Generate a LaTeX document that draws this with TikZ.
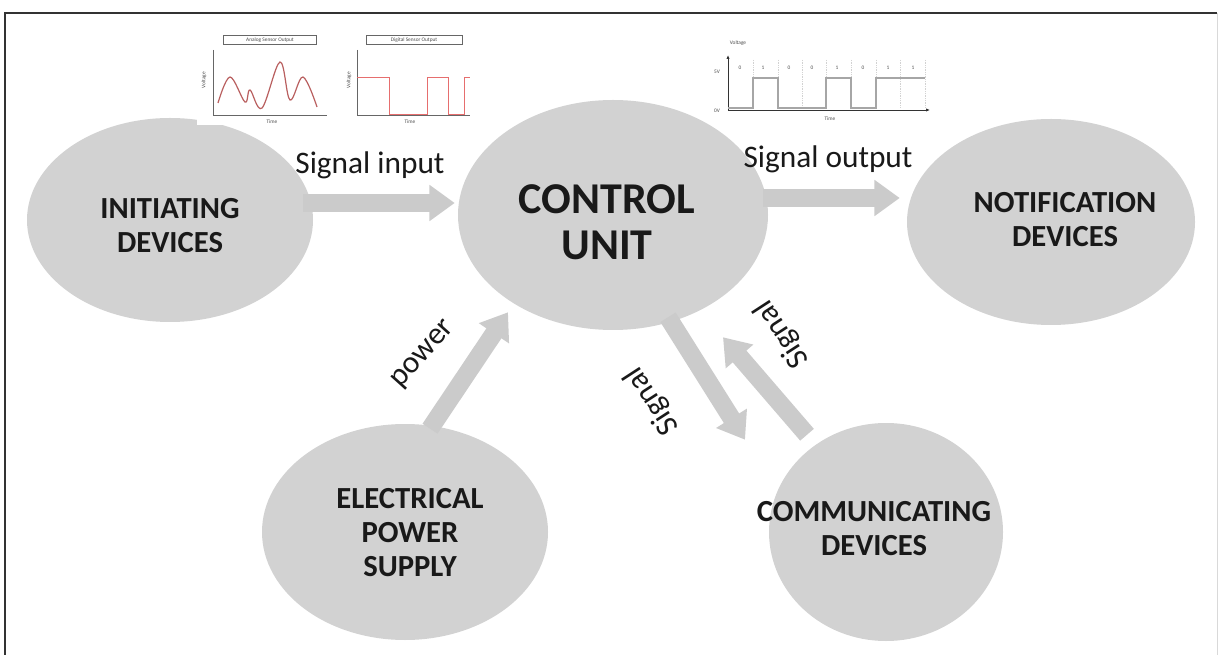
\documentclass[tikz,border=0pt]{standalone}
\usepackage{fontspec}
\setmainfont{Carlito}
\usetikzlibrary{arrows.meta,shapes.geometric,calc}
\definecolor{blobgray}{RGB}{210,210,210}
\definecolor{arrgray}{RGB}{203,203,203}
\definecolor{anared}{RGB}{185,95,95}
\definecolor{digred}{RGB}{230,110,110}
\begin{document}
\begin{tikzpicture}[x=0.75pt,y=-0.75pt,
  blob/.style={ellipse, fill=blobgray, draw=none, inner sep=0pt},
  blobtext/.style={font=\bfseries\fontsize{23}{25.5}\selectfont, align=center, text=black!90, inner sep=0pt},
  fat/.style={draw=arrgray, line width=13.5pt, -{Triangle[width=26pt,length=19pt]}},
  lbl/.style={font=\fontsize{23.5}{26}\selectfont, inner sep=0pt, text=black!90},
  tiny/.style={font=\fontsize{4}{4.5}\selectfont, inner sep=0.6pt, text=black!70},
  axis/.style={draw=black!60, line width=0.4pt},
]
\useasboundingbox (0,0) rectangle (1219,655);
\fill[white] (0,0) rectangle (1219,655);

% ellipses
\node[blob, minimum width=214.5pt, minimum height=153pt] (init) at (170,220) {};
\node[blob, minimum width=232.5pt, minimum height=172.5pt] (ctrl) at (613,215) {};
\node[blob, minimum width=216pt, minimum height=154.5pt] (notif) at (1051,222) {};
\node[blob, minimum width=214.5pt, minimum height=162pt] (elec) at (405,532) {};
\node[blob, minimum width=175.5pt, minimum height=163.5pt] (comm) at (886,532) {};

% white backdrop of the sensor-output picture
\fill[white] (197,13) rectangle (478,125);

% texts
\node[blobtext] (initT) at (170,226) {INITIATING\\DEVICES};
\node[blobtext, font=\bfseries\fontsize{33}{34.5}\selectfont] (ctrlT) at (607,222) {CONTROL\\UNIT};
\node[blobtext] (notifT) at (1065,220) {NOTIFICATION\\DEVICES};
\node[blobtext] (elecT) at (410,533) {ELECTRICAL\\POWER\\SUPPLY};
\node[blobtext] (commT) at (874,529) {COMMUNICATING\\DEVICES};

% connectors
\draw[fat] ([shift={(-10,-17)}]init.east) -- ([shift={(-3,-12)}]ctrl.west);
\draw[fat] ([shift={(-5,-17)}]ctrl.east) -- ([shift={(-7,-24)}]notif.west);
\draw[fat] ([shift={(25,5)}]elec.north) -- ([shift={(-105,-18)}]ctrl.south);
\draw[fat] ([shift={(55,-13)}]ctrl.south) -- ([shift={(-141,17)}]comm.north);
\draw[fat] ([shift={(-79,12)}]comm.north) -- ([shift={(110,7)}]ctrl.south);

% connector labels
\node[lbl] (lin) at (370,165) {Signal input};
\node[lbl] (lout) at (828,159) {Signal output};
\node[lbl, rotate=48] (lpow) at (424,355) {power};
\node[lbl, rotate=123] (lsig1) at (652,401) {Signal};
\node[lbl, rotate=123] (lsig2) at (782,334) {Signal};

% analog sensor output graph
\node[tiny, draw=black!60, minimum width=70pt, minimum height=7pt] (anaT) at (270,40) {Analog Sensor Output};
\draw[axis] (213,50) -- (213,115) -- (327,115);
\node[tiny, rotate=90] (anaV) at (204,80) {Voltage};
\node[tiny] (anaX) at (272,122) {Time};
\draw[anared, line width=0.9pt] plot[smooth, tension=0.6] coordinates {(218,103) (230,77) (245,102) (250,90) (262,108) (280,62) (290,100) (303,77) (317,107)};

% digital sensor output graph
\node[tiny, draw=black!60, minimum width=72pt, minimum height=7pt] (digT) at (414,40) {Digital Sensor Output};
\draw[axis] (357,50) -- (357,115) -- (470,115);
\node[tiny, rotate=90] (digV) at (349,80) {Voltage};
\node[tiny] (digX) at (410,122) {Time};
\draw[digred, line width=0.6pt] (357,77) -- (389,77) -- (389,114) -- (427,114) -- (427,77) -- (448,77) -- (448,114) -- (464,114) -- (464,77) -- (470,77);

% digital output (bits) graph
\foreach \gx in {753,778,802,826,851,876,900,925}
  \draw[gray!35, densely dotted, line width=0.3pt] (\gx,60) -- (\gx,108);
\draw[black!80, line width=0.6pt, -{Latex[length=3pt,width=2.5pt]}] (728,110) -- (728,55);
\draw[black!80, line width=0.6pt, -{Latex[length=3pt,width=2.5pt]}] (728,110) -- (930,110);
\draw[gray!70, line width=0.8pt] (728,108) -- (753,108) -- (753,78) -- (778,78) -- (778,108) -- (826,108) -- (826,78) -- (851,78) -- (851,108) -- (876,108) -- (876,78) -- (925,78);
\node[tiny] (bV) at (738,43) {Voltage};
\node[tiny] (b5) at (717,72) {5V};
\node[tiny] (b0) at (717,111) {0V};
\node[tiny] (bT) at (830,119) {Time};
\foreach \bx/\bb in {740/0,763/1,789/0,812/0,837/1,863/0,888/1,913/1}
  \node[tiny] at (\bx,68) {\bb};

% frame
\draw[black!80, line width=1.6pt] (5,660) -- (5,13) -- (1217,13);
\draw[gray!30, line width=0.6pt] (1217,13) -- (1217,660);
\end{tikzpicture}
\end{document}
